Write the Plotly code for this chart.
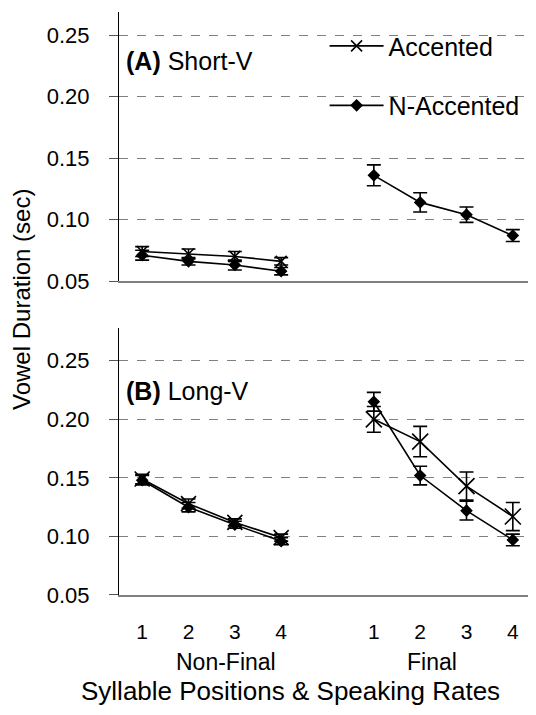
import plotly.graph_objects as go

# ---- data ----
positions_nonfinal = [1, 2, 3, 4]
positions_final = [6, 7, 8, 9]
tick_vals = [1, 2, 3, 4, 6, 7, 8, 9]
tick_text = ["1", "2", "3", "4", "1", "2", "3", "4"]

# Panel A: Short-V
a_acc_nf = [0.074, 0.072, 0.070, 0.066]
a_acc_nf_err = [0.004, 0.004, 0.004, 0.003]
a_nacc_nf = [0.071, 0.066, 0.063, 0.058]
a_nacc_nf_err = [0.004, 0.003, 0.004, 0.003]
a_nacc_f = [0.136, 0.114, 0.104, 0.087]
a_nacc_f_err = [0.0085, 0.0078, 0.0063, 0.0048]

# Panel B: Long-V
b_acc_nf = [0.149, 0.128, 0.112, 0.099]
b_acc_nf_err = [0.004, 0.004, 0.003, 0.003]
b_nacc_nf = [0.148, 0.125, 0.110, 0.096]
b_nacc_nf_err = [0.004, 0.004, 0.003, 0.003]
b_acc_f = [0.200, 0.181, 0.143, 0.117]
b_acc_f_err = [0.011, 0.013, 0.012, 0.012]
b_nacc_f = [0.215, 0.152, 0.122, 0.097]
b_nacc_f_err = [0.008, 0.008, 0.008, 0.005]

FONT = "Liberation Sans, Arial, sans-serif"

fig = go.Figure()


def add(x, y, err, sym, size, yaxis, name=None, show=False, group=None):
    fig.add_trace(go.Scatter(
        x=x, y=y, mode="lines+markers",
        line=dict(color="black", width=1.6),
        marker=dict(symbol=sym, size=size, color="black",
                    line=dict(color="black", width=1.6)),
        error_y=dict(type="data", array=err, visible=True, color="black",
                     thickness=1.6, width=7),
        yaxis=yaxis, xaxis="x" if yaxis == "y" else "x2",
        name=name, showlegend=show, legendgroup=group,
    ))


add(positions_nonfinal, a_acc_nf, a_acc_nf_err, "x-thin", 11, "y", "Accented", True, "g1")
add(positions_nonfinal, a_nacc_nf, a_nacc_nf_err, "diamond", 8, "y", "N-Accented", True, "g2")
add(positions_final, a_nacc_f, a_nacc_f_err, "diamond", 8, "y")
add(positions_nonfinal, b_acc_nf, b_acc_nf_err, "x-thin", 15, "y2")
add(positions_nonfinal, b_nacc_nf, b_nacc_nf_err, "diamond", 8, "y2")
add(positions_final, b_acc_f, b_acc_f_err, "x-thin", 16, "y2")
add(positions_final, b_nacc_f, b_nacc_f_err, "diamond", 8, "y2")

grid = dict(showgrid=True, gridcolor="#808080", griddash="dash", gridwidth=1)
yax = dict(tickvals=[0.05, 0.10, 0.15, 0.20, 0.25], tickformat=".2f",
           showline=True, linecolor="black", linewidth=1.2,
           ticks="outside", ticklen=9, tickcolor="#555",
           tickfont=dict(size=22, color="black", family=FONT),
           ticklabelstandoff=15, zeroline=False, **grid)
xax = dict(range=[0.5, 9.5], showline=True, linecolor="#808080", linewidth=2,
           showgrid=False, zeroline=False, ticks="")

fig.update_layout(
    width=528, height=707,
    margin=dict(l=111, r=0, t=4, b=120),
    plot_bgcolor="white", paper_bgcolor="white",
    font=dict(family=FONT, color="black"),
    xaxis=dict(domain=[0, 1], anchor="y", showticklabels=False, **xax),
    yaxis=dict(domain=[0.5386, 1], range=[0.05, 0.269], anchor="x", **yax),
    xaxis2=dict(domain=[0, 1], anchor="y2", tickvals=tick_vals, ticktext=tick_text,
                tickfont=dict(size=21, color="black", family=FONT),
                ticklabelstandoff=17, **xax),
    yaxis2=dict(domain=[0, 0.458], range=[0.05, 0.278], anchor="x2", **yax),
    legend=dict(x=0.493, y=0.981, xanchor="left", yanchor="top",
                font=dict(size=25, family=FONT, color="black"),
                tracegroupgap=24, bgcolor="rgba(0,0,0,0)", itemwidth=54),
    annotations=[
        dict(text="<b>(A)</b> Short-V", x=0.012, y=0.2291, xref="paper", yref="y",
             xanchor="left", yanchor="middle", showarrow=False,
             font=dict(size=25, family=FONT, color="black")),
        dict(text="<b>(B)</b> Long-V", x=0.012, y=0.2243, xref="paper", yref="y2",
             xanchor="left", yanchor="middle", showarrow=False,
             font=dict(size=25, family=FONT, color="black")),
        dict(text="Vowel Duration (sec)", x=-0.235, y=0.506, xref="paper", yref="paper",
             textangle=-90, xanchor="center", yanchor="middle", showarrow=False,
             font=dict(size=24, family=FONT, color="black")),
        dict(text="Non-Final", x=0.2566, y=-0.115, xref="paper", yref="paper",
             xanchor="center", yanchor="middle", showarrow=False,
             font=dict(size=23, family=FONT, color="black")),
        dict(text="Final", x=0.7506, y=-0.115, xref="paper", yref="paper",
             xanchor="center", yanchor="middle", showarrow=False,
             font=dict(size=23, family=FONT, color="black")),
        dict(text="Syllable Positions & Speaking Rates", x=0.412, y=-0.1647,
             xref="paper", yref="paper", xanchor="center", yanchor="middle",
             showarrow=False, font=dict(size=26, family=FONT, color="black")),
    ],
)

fig.write_html("out.html")
